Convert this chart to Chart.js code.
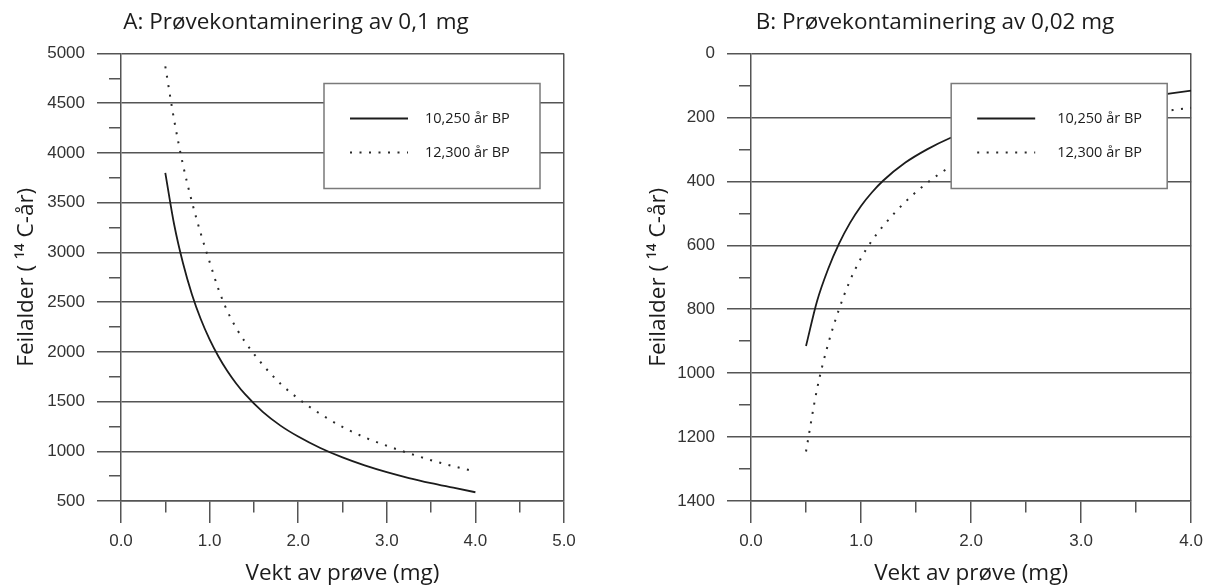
<!DOCTYPE html>
<html>
<head>
<meta charset="utf-8">
<script src="https://cdn.jsdelivr.net/npm/chart.js@4/dist/chart.umd.min.js"></script>
<style>
  html, body { margin: 0; padding: 0; background: #fff; }
  #wrap { position: relative; width: 1211px; height: 588px; overflow: hidden; }
  .panel { position: absolute; top: 0; height: 588px; }
  #panelA { left: 0; width: 600px; }
  #panelB { left: 600px; width: 611px; }
</style>
</head>
<body>
<div id="wrap">
  <div class="panel" id="panelA"><canvas id="chartA" width="600" height="588"></canvas></div>
  <div class="panel" id="panelB"><canvas id="chartB" width="611" height="588"></canvas></div>
</div>
<script>
// Sample weight (mg) and apparent age error (14C years) for two true ages.
const seriesLabels = ['10,250 år BP', '12,300 år BP'];

// Panel A: 0.1 mg contamination
const titleA = 'A: Prøvekontaminering av 0,1 mg';
const weightsA = [0.5, 0.6, 0.7, 0.8, 0.9, 1.0, 1.1, 1.2, 1.3, 1.4, 1.6, 1.8, 2.0, 2.25, 2.5, 2.75, 3.0, 3.25, 3.5, 3.75, 4.0];
const age10250A = [3800, 3280, 2890, 2580, 2330, 2125, 1953, 1807, 1682, 1574, 1396, 1258, 1148, 1033, 938, 858, 790, 731, 680, 634, 588];
const age12300A = [4870, 4330, 3880, 3510, 3190, 2905, 2630, 2410, 2240, 2100, 1870, 1680, 1530, 1375, 1245, 1140, 1055, 980, 910, 850, 796];
const xLabelsA = ['0.0', '1.0', '2.0', '3.0', '4.0', '5.0'];
const yLabelsA = ['500', '1000', '1500', '2000', '2500', '3000', '3500', '4000', '4500', '5000'];

// Panel B: 0.02 mg contamination
const titleB = 'B: Prøvekontaminering av 0,02 mg';
const weightsB = [0.5, 0.6, 0.7, 0.8, 0.9, 1.0, 1.1, 1.2, 1.4, 1.6, 1.8, 2.0, 2.5, 3.0, 3.5, 4.0];
const age10250B = [915, 775, 675, 595, 530, 477, 434, 398, 342, 300, 266, 240, 196, 165, 140, 116];
const age12300B = [1245, 1050, 910, 800, 710, 640, 585, 540, 465, 405, 357, 322, 262, 222, 192, 170];
const xLabelsB = ['0.0', '1.0', '2.0', '3.0', '4.0'];
const yLabelsB = ['0', '200', '400', '600', '800', '1000', '1200', '1400'];

const xCaption = 'Vekt av prøve (mg)';
const yCaption = 'Feilalder ( \u00B9\u2074 C-år)';

const INK = '#1c1c1c';
const GRID = '#555555';
const TICK_FONT = { family: '"Liberation Sans", Arial, sans-serif', size: 17 };
const TEXT_FAMILY = '"Open Sans", "Noto Sans", sans-serif';

// Boxed key drawn over the curves, styled from each dataset
const keyBox = {
  id: 'keyBox',
  afterDatasetsDraw(chart, args, o) {
    const { ctx, chartArea } = chart;
    const x0 = chartArea.right - o.right - o.width;
    const y0 = chartArea.top + o.top;
    ctx.save();
    ctx.fillStyle = '#ffffff';
    ctx.fillRect(x0, y0, o.width, o.height);
    ctx.strokeStyle = o.borderColor;
    ctx.lineWidth = o.borderWidth;
    ctx.strokeRect(x0, y0, o.width, o.height);
    chart.data.datasets.forEach((ds, i) => {
      const y = y0 + o.firstRow + i * o.rowGap;
      ctx.beginPath();
      ctx.setLineDash(ds.borderDash || []);
      ctx.lineCap = ds.borderCapStyle || 'butt';
      ctx.strokeStyle = ds.borderColor;
      ctx.lineWidth = ds.borderWidth;
      ctx.moveTo(x0 + o.sampleStart, y);
      ctx.lineTo(x0 + o.sampleStart + o.sampleLength, y);
      ctx.stroke();
      ctx.setLineDash([]);
      ctx.fillStyle = o.color;
      ctx.font = o.font;
      ctx.textBaseline = 'middle';
      ctx.textAlign = 'left';
      ctx.fillText(ds.label, x0 + o.textStart, y);
    });
    ctx.restore();
  }
};

function makeDatasets(weights, solid, dotted) {
  return [
    {
      label: seriesLabels[0],
      data: weights.map((w, i) => ({ x: w, y: solid[i] })),
      borderColor: INK, borderWidth: 1.8, pointRadius: 0,
      cubicInterpolationMode: 'monotone', fill: false
    },
    {
      label: seriesLabels[1],
      data: weights.map((w, i) => ({ x: w, y: dotted[i] })),
      borderColor: '#2a2a2a', borderWidth: 2, borderDash: [2, 7.5], pointRadius: 0,
      cubicInterpolationMode: 'monotone', fill: false
    }
  ];
}

function panelConfig(p) {
  return {
    type: 'line',
    data: { datasets: makeDatasets(p.weights, p.solid, p.dotted) },
    plugins: [keyBox],
    options: {
      responsive: false,
      animation: false,
      devicePixelRatio: 1,
      layout: { padding: { left: p.padLeft, right: p.padRight, top: 0, bottom: 0 } },
      plugins: {
        legend: { display: false },
        tooltip: { enabled: false },
        title: {
          display: true, text: p.title, color: INK,
          font: { family: TEXT_FAMILY, size: 22.5, weight: 'normal' },
          padding: { top: 9.5, bottom: 17 }
        },
        keyBox: {
          right: 24, top: 30, width: 216, height: 105,
          firstRow: 35, rowGap: 34,
          sampleStart: 26, sampleLength: 58, textStart: p.keyText,
          borderColor: '#7a7a7a', borderWidth: 1.5,
          color: INK, font: '14.5px ' + TEXT_FAMILY
        }
      },
      scales: {
        x: {
          type: 'linear', min: 0, max: p.xMax,
          border: { display: true, color: GRID, width: 1.5 },
          grid: {
            drawOnChartArea: true,
            tickLength: 22,
            lineWidth: 1.5,
            color: (c) => c.tick && c.tick.value === p.xMax ? GRID : 'rgba(0,0,0,0)',
            tickColor: GRID,
            tickWidth: 1.5,
            tickBorderDash: (c) => p.xLabels.includes(c.tick.value.toFixed(1)) ? [] : [11, 100]
          },
          ticks: {
            stepSize: 0.5, autoSkip: false, maxRotation: 0, padding: 8,
            color: '#333333', font: TICK_FONT,
            callback: (v) => p.xLabels.includes(Number(v).toFixed(1)) ? Number(v).toFixed(1) : ''
          },
          title: {
            display: true, text: xCaption, color: INK,
            font: { family: TEXT_FAMILY, size: 22.5 },
            padding: { top: 0, bottom: 0.5 }
          },
          afterFit: (s) => { s.height = 87; }
        },
        y: {
          type: 'linear', min: p.yMin, max: p.yMax, reverse: p.reverse,
          border: { display: true, color: GRID, width: 1.5 },
          grid: {
            drawOnChartArea: true,
            tickLength: 24,
            lineWidth: 1.5,
            color: (c) => c.tick && p.yLabels.includes(String(c.tick.value)) ? GRID : 'rgba(0,0,0,0)',
            tickColor: GRID,
            tickWidth: 1.5,
            tickBorderDash: (c) => p.yLabels.includes(String(c.tick.value)) ? [] : [0, 12, 12, 0]
          },
          ticks: {
            stepSize: p.yStep, autoSkip: false, padding: 12,
            color: '#333333', font: TICK_FONT,
            callback: (v) => p.yLabels.includes(String(v)) ? String(v) : ''
          },
          title: {
            display: true, text: yCaption, color: INK,
            font: { family: TEXT_FAMILY, size: 22.5 },
            padding: { top: p.yTitlePad, bottom: 0 }
          },
          afterFit: (s) => { s.width = p.yWidth; }
        }
      }
    }
  };
}

new Chart(document.getElementById('chartA'), panelConfig({
  title: titleA, weights: weightsA, solid: age10250A, dotted: age12300A,
  xMax: 5, xLabels: xLabelsA, yMin: 500, yMax: 5000, yStep: 250, yLabels: yLabelsA,
  reverse: false, padLeft: 28, padRight: 36, yWidth: 93, yTitlePad: -14.5, keyText: 101
}));

new Chart(document.getElementById('chartB'), panelConfig({
  title: titleB, weights: weightsB, solid: age10250B, dotted: age12300B,
  xMax: 4, xLabels: xLabelsB, yMin: 0, yMax: 1400, yStep: 100, yLabels: yLabelsB,
  reverse: true, padLeft: 75, padRight: 16, yWidth: 76, yTitlePad: -29.5, keyText: 106
}));
</script>
</body>
</html>
